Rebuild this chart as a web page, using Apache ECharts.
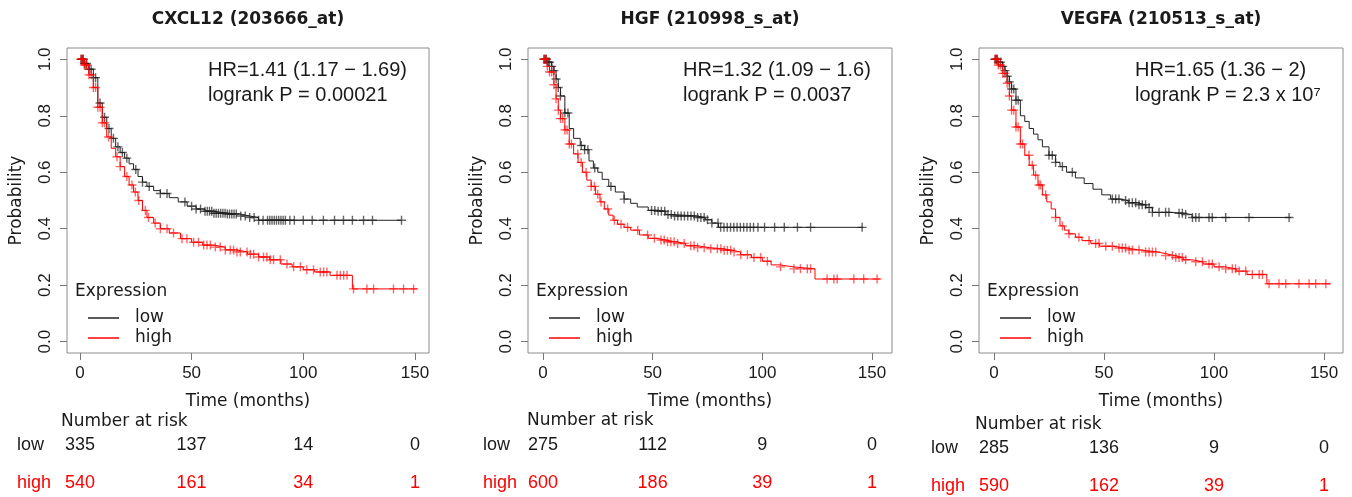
<!DOCTYPE html>
<html><head><meta charset="utf-8">
<script src="https://cdn.jsdelivr.net/npm/echarts@6/dist/echarts.min.js"></script>
<style>html,body{margin:0;padding:0;background:#fff}#c{width:1352px;height:497px}</style>
</head><body><div id="c"></div><script>
// ---------------- DATA ----------------
const panelTitles = ['CXCL12 (203666_at)', 'HGF (210998_s_at)', 'VEGFA (210513_s_at)'];
const hrTexts = ['HR=1.41 (1.17 \u2212 1.69)', 'HR=1.32 (1.09 \u2212 1.6)', 'HR=1.65 (1.36 \u2212 2)'];
const pTexts = ['logrank P = 0.00021', 'logrank P = 0.0037', 'logrank P = 2.3 x 10\u2077'];
const groupNames = ['low', 'high'];
const xTicks = [0, 50, 100, 150];
const yTicks = [0, 0.2, 0.4, 0.6, 0.8, 1.0];
const riskTimes = [0, 50, 100, 150];
const riskLow = [[335, 137, 14, 0], [275, 112, 9, 0], [285, 136, 9, 0]];
const riskHigh = [[540, 161, 34, 1], [600, 186, 39, 1], [590, 162, 39, 1]];

// Kaplan-Meier curves: [time (months), survival probability after event]
const lowCurve1 = [[0,1],[2,0.985],[4,0.965],[6,0.935],[8,0.845],[10,0.795],[12,0.755],[14,0.72],[16,0.69],[18,0.67],[20,0.65],[22,0.63],[24,0.61],[26,0.585],[28,0.565],[30,0.55],[33,0.535],[36,0.525],[40,0.51],[44,0.495],[48,0.48],[52,0.47],[56,0.462],[60,0.455],[66,0.452],[72,0.445],[76,0.44],[80,0.43],[144,0.43]];
const highCurve1 = [[0,1],[2,0.98],[4,0.945],[6,0.9],[8,0.83],[10,0.775],[12,0.725],[14,0.685],[16,0.655],[18,0.62],[20,0.585],[22,0.555],[24,0.53],[26,0.5],[28,0.465],[30,0.44],[33,0.42],[36,0.4],[40,0.385],[45,0.365],[50,0.352],[55,0.342],[60,0.335],[65,0.325],[70,0.318],[75,0.31],[80,0.3],[85,0.29],[90,0.275],[95,0.265],[100,0.255],[105,0.247],[112,0.235],[122,0.187],[151,0.187]];
const lowCurve2 = [[0,1],[2,0.99],[4,0.975],[5,0.96],[6,0.93],[7,0.9],[8,0.87],[10,0.81],[12,0.755],[14,0.72],[17,0.695],[19,0.68],[21,0.64],[23,0.615],[25,0.6],[27,0.575],[30,0.55],[33,0.53],[37,0.505],[40,0.49],[43,0.477],[48,0.465],[52,0.462],[56,0.45],[60,0.445],[70,0.44],[74,0.432],[77,0.42],[80,0.405],[146,0.405]];
const highCurve2 = [[0,1],[2,0.975],[3,0.955],[5,0.91],[6,0.86],[7,0.82],[8,0.79],[10,0.75],[12,0.7],[14,0.665],[16,0.635],[18,0.6],[20,0.572],[22,0.55],[24,0.522],[26,0.495],[28,0.47],[30,0.448],[32,0.43],[34,0.416],[37,0.405],[40,0.395],[44,0.378],[48,0.366],[52,0.36],[56,0.354],[60,0.348],[65,0.34],[70,0.333],[76,0.329],[82,0.324],[86,0.318],[90,0.308],[95,0.298],[100,0.285],[104,0.272],[108,0.265],[114,0.258],[124,0.222],[153.5,0.222]];
const lowCurve3 = [[0,1],[2,0.99],[4,0.975],[5,0.96],[6,0.94],[7,0.92],[8,0.895],[10,0.855],[12,0.8],[14,0.78],[16,0.755],[18,0.735],[20,0.715],[22,0.69],[25,0.66],[28,0.635],[30,0.62],[33,0.6],[37,0.58],[41,0.56],[45,0.54],[49,0.52],[53,0.505],[57,0.5],[61,0.492],[65,0.485],[69,0.475],[72,0.458],[80,0.455],[86,0.45],[90,0.44],[135,0.44]];
const highCurve3 = [[0,1],[2,0.98],[4,0.95],[6,0.915],[7,0.87],[8,0.82],[10,0.76],[12,0.7],[14,0.66],[16,0.625],[18,0.59],[20,0.555],[22,0.52],[24,0.495],[26,0.47],[28,0.44],[30,0.41],[32,0.395],[34,0.382],[37,0.37],[40,0.358],[44,0.348],[48,0.338],[54,0.332],[60,0.325],[66,0.318],[74,0.312],[78,0.305],[82,0.298],[86,0.29],[90,0.283],[95,0.275],[100,0.265],[105,0.258],[110,0.25],[115,0.238],[124,0.205],[153,0.205]];

// censoring times (months)
const lowCensor1 = [0.5,1,1.5,2,3,4,5,6,7,9,11,13,15,17,19,21,25,28,31,36,39,47,50,52,54,56,57,58,59,60,61,62,63,64,65,66,67,68,69,70,72,74,76,78,80,82,84,85,86,87,88,89,90,91,92,94,96,100,104,109,114,118,122,127,131,144];
const highCensor1 = [0.5,1,1.5,2,2.5,3,4,5,6,7,8,9,10,11,12.8,16.6,18,21,23.3,24.8,26.3,29.3,30.7,33.7,36,39,41.9,45.7,47.9,50.9,53.1,55.4,56.9,58.4,60.6,62.8,65.1,67.3,68.8,70.3,71.8,74.8,76.3,77.8,80,82.2,83.7,85.2,86.7,89.7,92.7,95.7,98.7,101.6,104.6,107.6,109.1,110.6,115.1,116.6,118.1,119.6,122.5,128.5,131.5,140.4,144.9,149.4];
const lowCensor2 = [0.5,1,1.5,2,2.5,3,4,5,6,7,8,10,11.4,17.5,19,20.5,23.6,31,37,49.5,51,52.5,54,55.5,57,58.5,60,61.5,63,64.5,66,67.5,69,70.5,72,73.5,75,77,79.8,81,82.5,84,85.5,87,88.5,90,91.5,93,94.5,96,98,101,105.6,110,116,122,145.5];
const highCensor2 = [0.5,1,1.5,2,3,4,5,6,7,8,9,10,11,12,13,15.9,17.4,19.7,22,23.5,25,26.5,29.5,32.6,35.6,38.6,43.2,47.7,50.8,53.8,55.3,56.8,58.3,59.8,61.4,64.4,67.4,68.9,70.5,73.5,76.5,79.5,81.1,82.6,84.1,85.6,87.1,90.2,93.2,96.2,99.2,102.3,108.3,114.4,117.4,120.5,122,129.5,132.6,134.1,141.7,146.2,152.3];
const lowCensor3 = [0.5,1,1.5,2,3,4,5,6,7,8,9,10,11,25,26.5,28,31.1,35.6,53.8,55.3,56.8,59.8,61.4,62.9,64.4,65.9,67.4,68.9,70.5,72,75,78,79.5,84.1,85.6,87.1,90.2,91.7,93.2,97.7,99.2,105.3,115.9,134.1];
const highCensor3 = [0.5,1,1.5,2,3,4,5,6,7,8,9,10,11,12,13,15.9,17.4,18.9,20.5,21.2,23.5,28,31.1,34.1,38.6,43.2,46.2,47.7,50.8,53.8,56.8,58.3,59.8,61.4,62.9,65.9,68.9,70.5,72,73.5,78,81.1,82.6,84.1,85.6,87.1,91.7,94.7,97.7,99.2,102.3,105.3,108.3,109.8,111.4,114.4,117.4,120.5,122,125,129.5,132.6,138.6,143.2,146.2,150.8];

// ---------------- LAYOUT ----------------
const lowCurves = [lowCurve1, lowCurve2, lowCurve3];
const highCurves = [highCurve1, highCurve2, highCurve3];
const lowCensors = [lowCensor1, lowCensor2, lowCensor3];
const highCensors = [highCensor1, highCensor2, highCensor3];
const panels = [
  {left: 67, width: 362, xmin: -5.8, xmax: 156.3, hrX: 208, narX: 61, narY: 422, rowX: 17, lowY: 445, highY: 483},
  {left: 528, width: 364, xmin: -6.8, xmax: 159.1, hrX: 683, narX: 527, narY: 421, rowX: 483, lowY: 445, highY: 483},
  {left: 979, width: 364, xmin: -6.8, xmax: 158.6, hrX: 1135, narX: 975, narY: 425, rowX: 931, lowY: 448, highY: 486}
];
const TOP = 48, HEIGHT = 305;
const LOWC = '#222222', HIGHC = '#ff0000';
const PLUS = 'path://M3.8,0H5.2V3.8H9V5.2H5.2V9H3.8V5.2H0V3.8H3.8Z';
const TXT = '#1a1a1a';

function survAt(curve, t) {
  let s = curve[0][1];
  for (const p of curve) { if (p[0] <= t) s = p[1]; else break; }
  return s;
}

const chart = echarts.init(document.getElementById('c'), null, {renderer: 'canvas'});
const grids = [], xAxes = [], yAxes = [], series = [], legends = [];
panels.forEach((p, i) => {
  grids.push({left: p.left, top: TOP, width: p.width, height: HEIGHT, show: true,
    borderColor: '#8c8c8c', borderWidth: 1, backgroundColor: 'transparent', containLabel: false});
  xAxes.push({type: 'value', gridIndex: i, min: p.xmin, max: p.xmax, position: 'bottom',
    name: 'Time (months)', nameLocation: 'middle', nameGap: 40,
    nameTextStyle: {fontFamily: 'DejaVu Sans', fontSize: 17, color: TXT},
    axisLine: {show: false, onZero: false}, splitLine: {show: false},
    axisTick: {show: true, length: 7, inside: false, customValues: xTicks, lineStyle: {color: '#777'}},
    axisLabel: {show: true, margin: 12, customValues: xTicks, fontFamily: 'Liberation Sans', fontSize: 17, color: TXT}});
  yAxes.push({type: 'value', gridIndex: i, min: -0.04, max: 1.04, position: 'left',
    name: 'Probability', nameLocation: 'middle', nameGap: 42,
    nameTextStyle: {fontFamily: 'DejaVu Sans', fontSize: 17, color: TXT},
    axisLine: {show: false, onZero: false}, splitLine: {show: false},
    axisTick: {show: true, length: 7, inside: false, customValues: yTicks, lineStyle: {color: '#777'}},
    axisLabel: {show: true, margin: 13, rotate: 90, customValues: yTicks, formatter: v => v.toFixed(1),
      fontFamily: 'Liberation Sans', fontSize: 17, color: TXT}});
  series.push({type: 'line', name: 'low', xAxisIndex: i, yAxisIndex: i, data: lowCurves[i], step: 'end',
    showSymbol: false, symbol: 'none', lineStyle: {width: 1, color: LOWC}, itemStyle: {color: LOWC}, silent: true, z: 2});
  series.push({type: 'line', name: 'high', xAxisIndex: i, yAxisIndex: i, data: highCurves[i], step: 'end',
    showSymbol: false, symbol: 'none', lineStyle: {width: 1, color: HIGHC}, itemStyle: {color: HIGHC}, silent: true, z: 3});
  series.push({type: 'scatter', name: 'low censored', xAxisIndex: i, yAxisIndex: i,
    data: lowCensors[i].map(t => [t, survAt(lowCurves[i], t)]), symbol: PLUS, symbolSize: 9,
    itemStyle: {color: 'rgba(30,30,30,0.85)'}, silent: true, z: 2});
  series.push({type: 'scatter', name: 'high censored', xAxisIndex: i, yAxisIndex: i,
    data: highCensors[i].map(t => [t, survAt(highCurves[i], t)]), symbol: PLUS, symbolSize: 9,
    itemStyle: {color: 'rgba(255,0,0,0.75)'}, silent: true, z: 3});
  legends.push({data: groupNames, orient: 'vertical', left: p.left + 16, top: 304, icon: 'rect',
    itemWidth: 31, itemHeight: 1.5, itemGap: 2, selectedMode: false,
    textStyle: {fontFamily: 'DejaVu Sans', fontSize: 17, color: TXT, padding: [0, 0, 0, 11], lineHeight: 18}});
});

chart.setOption({animation: false, backgroundColor: '#fff', grid: grids, xAxis: xAxes, yAxis: yAxes, series: series, legend: legends});

const g = [];
panels.forEach((p, i) => {
  const cx = p.left + p.width / 2;
  g.push({type: 'text', x: cx, y: 20, style: {text: panelTitles[i], fontFamily: 'DejaVu Sans', fontWeight: 'bold', fontSize: 17, fill: TXT, align: 'center', verticalAlign: 'middle'}});
  g.push({type: 'text', x: p.hrX, y: 70, style: {text: hrTexts[i], fontFamily: 'Liberation Sans', fontSize: 20, fill: TXT, align: 'left', verticalAlign: 'middle'}});
  g.push({type: 'text', x: p.hrX, y: 95, style: {text: pTexts[i], fontFamily: 'Liberation Sans, DejaVu Sans', fontSize: 20, fill: TXT, align: 'left', verticalAlign: 'middle'}});
  g.push({type: 'text', x: p.left + 8, y: 292, style: {text: 'Expression', fontFamily: 'DejaVu Sans', fontSize: 17, fill: TXT, align: 'left', verticalAlign: 'middle'}});
  g.push({type: 'text', x: p.narX, y: p.narY, style: {text: 'Number at risk', fontFamily: 'DejaVu Sans', fontSize: 17, fill: TXT, align: 'left', verticalAlign: 'middle'}});
  g.push({type: 'text', x: p.rowX, y: p.lowY, style: {text: groupNames[0], fontFamily: 'Liberation Sans', fontSize: 18, fill: TXT, align: 'left', verticalAlign: 'middle'}});
  g.push({type: 'text', x: p.rowX, y: p.highY, style: {text: groupNames[1], fontFamily: 'Liberation Sans', fontSize: 18, fill: HIGHC, align: 'left', verticalAlign: 'middle'}});
  riskTimes.forEach((t, k) => {
    const px = chart.convertToPixel({xAxisIndex: i}, t);
    g.push({type: 'text', x: px, y: p.lowY, style: {text: String(riskLow[i][k]), fontFamily: 'Liberation Sans', fontSize: 18, fill: TXT, align: 'center', verticalAlign: 'middle'}});
    g.push({type: 'text', x: px, y: p.highY, style: {text: String(riskHigh[i][k]), fontFamily: 'Liberation Sans', fontSize: 18, fill: HIGHC, align: 'center', verticalAlign: 'middle'}});
  });
});
chart.setOption({graphic: g});
</script></body></html>
